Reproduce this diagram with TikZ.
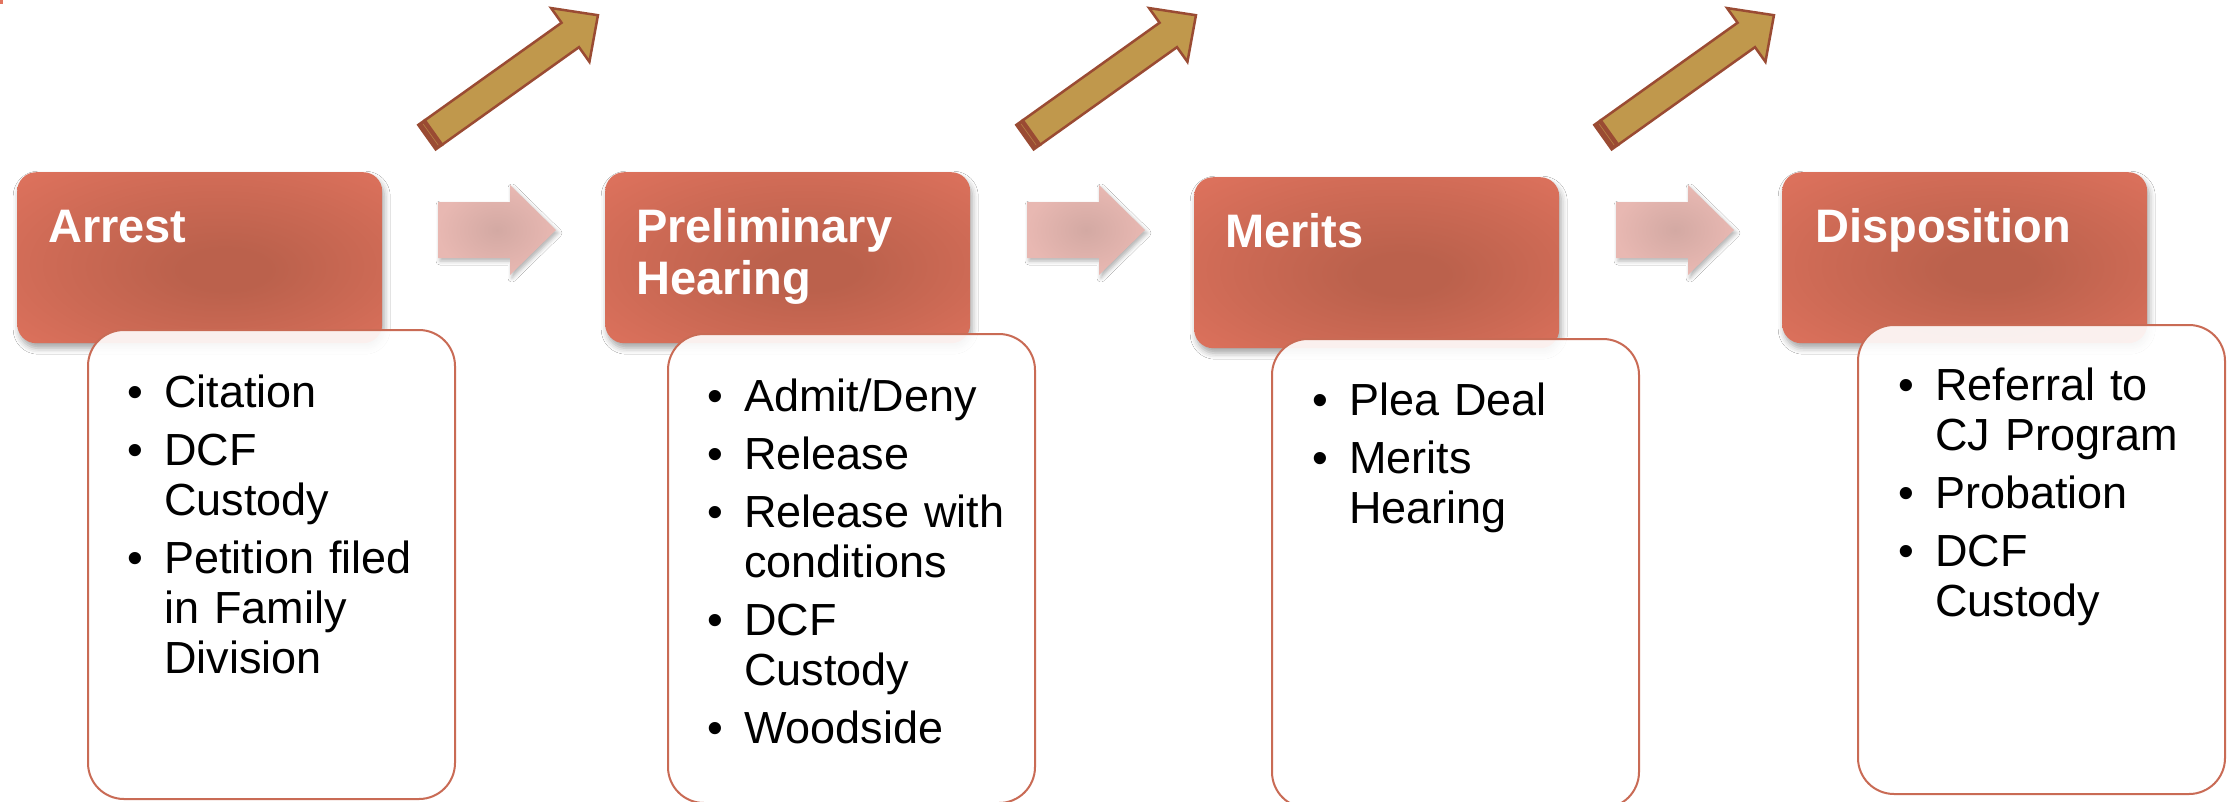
\documentclass[tikz,border=0pt]{standalone}
\usepackage{fontspec}
\setmainfont{Liberation Sans}
\usetikzlibrary{shadows.blur}
\definecolor{hdrout}{HTML}{E2745F}
\definecolor{hdrin}{HTML}{BB614C}
\definecolor{dborder}{HTML}{C96B55}
\definecolor{chevA}{HTML}{E8B8B2}
\definecolor{chevB}{HTML}{D3A9A3}
\definecolor{gold}{HTML}{C0984C}
\definecolor{brownedge}{HTML}{9A4B33}
\pgfdeclareradialshading{hdrshade}{\pgfpoint{4bp}{-4bp}}{%
  color(0bp)=(hdrin); color(6bp)=(hdrin); color(22bp)=(hdrin!55!hdrout);
  color(40bp)=(hdrout); color(50bp)=(hdrout)}
\newcommand\bul{\noindent\llap{\textbullet\hspace{21pt}}}
\tikzset{
  hdrbox/.style={rectangle, rounded corners=19pt, minimum width=365pt, minimum height=171pt,
    anchor=north west, inner sep=0pt, shading=hdrshade,
    blur shadow={shadow xshift=2pt, shadow yshift=-5pt, shadow blur radius=6pt, shadow opacity=35}},
  dbox/.style={rectangle, rounded corners=36pt, minimum width=367pt, minimum height=469pt,
    anchor=north west, inner sep=0pt, fill=white, fill opacity=0.9, draw=dborder, line width=2pt},
  htext/.style={anchor=base west, inner sep=0pt, text=white, text width=330pt, align=left,
    font=\bfseries\fontsize{47}{52}\selectfont},
  btext/.style={anchor=base west, inner sep=0pt, text=black, text width=300pt, align=left,
    font=\fontsize{45}{50}\selectfont},
  chevron/.pic={
    \path[inner color=chevB, outer color=chevA,
      blur shadow={shadow xshift=2pt, shadow yshift=-3pt, shadow blur radius=4pt, shadow opacity=30}]
      (0,-28) -- (72,-28) -- (72,-45) -- (118,0) -- (72,45) -- (72,28) -- (0,28) -- cycle;
  },
  diagarrow/.pic={
    \filldraw[fill=brownedge, draw=brownedge, line width=2.5pt, line join=miter] (-8,-15) rectangle (0,15);
    \draw[gold!70!brownedge, line width=0.6pt] (-3.5,-13) -- (-3.5,13);
    \filldraw[fill=gold, draw=brownedge, line width=2.5pt, line join=miter]
      (0,-15) -- (168,-15) -- (168,-33) -- (202,0) -- (168,33) -- (168,15) -- (0,15) -- cycle;
  }
}
\begin{document}
\begin{tikzpicture}[x=1pt,y=-1pt]
\useasboundingbox (0,0) rectangle (2236,801);
\fill[white] (0,0) rectangle (2236,801);
\fill[hdrout] (0,0) rectangle (2.5,4);

% diagonal arrows
\pic[rotate=35.5] at (433.5,132.5) {diagarrow};
\pic[rotate=35.5] at (1031.5,132.5) {diagarrow};
\pic[rotate=35.5] at (1609.5,132.5) {diagarrow};

% chevrons
\pic at (438,230) {chevron};
\pic at (1027,230) {chevron};
\pic at (1616,230) {chevron};

% header boxes
\node[hdrbox] (h1) at (17,172) {};
\node[hdrbox] (h2) at (605,172) {};
\node[hdrbox] (h3) at (1194,177) {};
\node[hdrbox] (h4) at (1782,172) {};

% detail boxes
\node[dbox] (d1) at (87,329) {};
\node[dbox] (d2) at (667,333) {};
\node[dbox] (d3) at (1271,338) {};
\node[dbox] (d4) at (1857,324) {};

% header texts
\node[htext] (ht1) at (48,242) {Arrest};
\node[htext] (ht2) at (636,242) {Preliminary\\Hearing};
\node[htext] (ht3) at (1225,247) {Merits};
\node[htext] (ht4) at (1815,242) {Disposition};

% body texts
\node[btext] (bt1) at (164,407) {\bul Citation\\[8pt]\bul DCF\\Custody\\[8pt]\bul Petition filed\\in Family\\Division};
\node[btext] (bt2) at (744,411) {\bul Admit/Deny\\[8pt]\bul Release\\[8pt]\bul Release with\\conditions\\[8pt]\bul DCF\\Custody\\[8pt]\bul Woodside};
\node[btext] (bt3) at (1349,415) {\bul Plea Deal\\[8pt]\bul Merits\\Hearing};
\node[btext] (bt4) at (1935,400) {\bul Referral to\\CJ Program\\[8pt]\bul Probation\\[8pt]\bul DCF\\Custody};
\end{tikzpicture}
\end{document}
